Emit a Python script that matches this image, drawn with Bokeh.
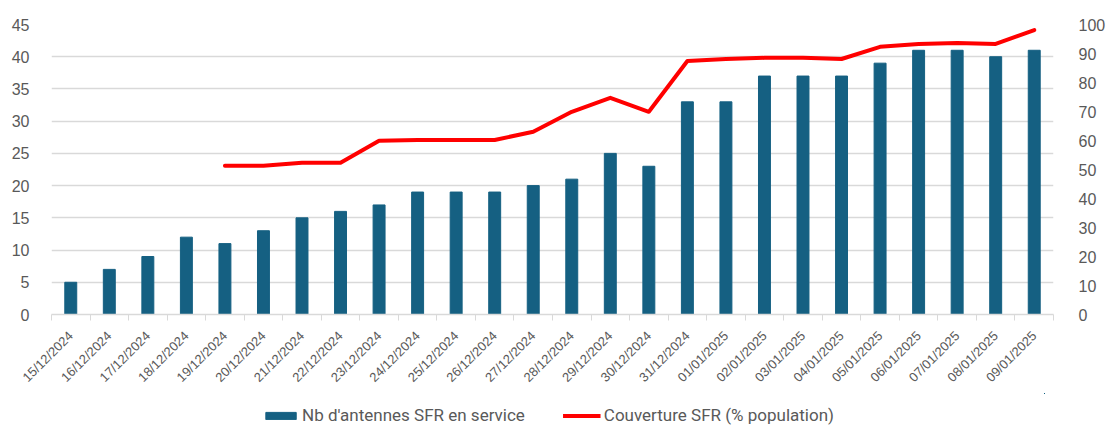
import math
import numpy as np
from bokeh.plotting import figure
from bokeh.layouts import column
from bokeh.models import Range1d, LinearAxis, FixedTicker, Legend, LegendItem, ColumnDataSource
from bokeh.embed import file_html
from bokeh.resources import INLINE

dates = ["15/12/2024", "16/12/2024", "17/12/2024", "18/12/2024", "19/12/2024",
         "20/12/2024", "21/12/2024", "22/12/2024", "23/12/2024", "24/12/2024",
         "25/12/2024", "26/12/2024", "27/12/2024", "28/12/2024", "29/12/2024",
         "30/12/2024", "31/12/2024", "01/01/2025", "02/01/2025", "03/01/2025",
         "04/01/2025", "05/01/2025", "06/01/2025", "07/01/2025", "08/01/2025",
         "09/01/2025"]
antennes = [5, 7, 9, 12, 11, 13, 15, 16, 17, 19, 19, 19, 20, 21, 25, 23,
            33, 33, 37, 37, 37, 39, 41, 41, 40, 41]
nan = float("nan")
couverture = [nan, nan, nan, nan, 51.3, 51.3, 52.3, 52.3, 59.9, 60.2, 60.2, 60.2,
              63.0, 69.9, 74.7, 69.9, 87.4, 88.1, 88.5, 88.5, 88.1, 92.3, 93.3,
              93.6, 93.3, 98.1]
left_ticks = [0, 5, 10, 15, 20, 25, 30, 35, 40, 45]
right_ticks = [0, 10, 20, 30, 40, 50, 60, 70, 80, 90, 100]
series_names = ["Nb d'antennes SFR en service", "Couverture SFR (% population)"]

n = len(dates)
xs = [i + 0.5 for i in range(n)]
src = ColumnDataSource(dict(x=xs, ant=antennes, cov=np.array(couverture, dtype=float)))

GRAY = "#595959"
GRID = "#d9d9d9"
FONT = "Liberation Sans"
BAR_COLOR = "#156082"
LINE_COLOR = "#ff0000"

p = figure(frame_width=1002, frame_height=290, output_backend="svg", toolbar_location=None,
           x_range=Range1d(0, n), y_range=Range1d(0, 45),
           min_border_left=51, min_border_right=46, min_border_top=24,
           min_border_bottom=0)
p.outline_line_color = None
p.extra_y_ranges = {"pct": Range1d(0, 100)}

p.vbar(x="x", top="ant", width=0.31, source=src, color=BAR_COLOR)
p.line(x="x", y="cov", source=src, y_range_name="pct", line_color=LINE_COLOR,
       line_width=4, line_cap="round", line_join="round")

xa = p.xaxis[0]
xa.ticker = FixedTicker(ticks=xs, minor_ticks=list(range(n + 1)))
xa.major_label_overrides = {x: d for x, d in zip(xs, dates)}
xa.major_tick_line_color = None
xa.minor_tick_line_color = GRID
xa.minor_tick_out = 6
xa.minor_tick_in = 0
xa.axis_line_color = GRID
xa.axis_line_width = 1.5
xa.major_label_orientation = math.pi / 4
xa.major_label_text_font = FONT
xa.major_label_text_font_size = "13px"
xa.major_label_text_color = GRAY
xa.major_label_standoff = 13

ya = p.yaxis[0]
ya.ticker = FixedTicker(ticks=left_ticks)
ya.axis_line_color = None
ya.major_tick_line_color = None
ya.minor_tick_line_color = None
ya.major_label_text_font = FONT
ya.major_label_text_font_size = "16px"
ya.major_label_text_color = GRAY
ya.major_label_standoff = 16

ra = LinearAxis(y_range_name="pct", ticker=FixedTicker(ticks=right_ticks))
ra.axis_line_color = None
ra.major_tick_line_color = None
ra.minor_tick_line_color = None
ra.major_label_text_font = FONT
ra.major_label_text_font_size = "16px"
ra.major_label_text_color = GRAY
ra.major_label_standoff = 19
p.add_layout(ra, "right")

p.xgrid.grid_line_color = None
p.ygrid.ticker = FixedTicker(ticks=left_ticks)
p.ygrid.grid_line_color = GRID
p.ygrid.grid_line_width = 1.5

# legend strip below the chart (same series, ranges set far out of view; only the legend shows)
lg = figure(width=1099, height=44, output_backend="svg", toolbar_location=None,
            x_range=Range1d(-1000, -999), y_range=Range1d(-1000, -999),
            min_border=0)
lg.axis.visible = False
lg.grid.visible = False
lg.outline_line_color = None
r_bar = lg.vbar(x="x", top="ant", width=0.31, source=src, color=BAR_COLOR)
r_line = lg.line(x="x", y="cov", source=src, line_color=LINE_COLOR, line_width=4)
legend = Legend(items=[LegendItem(label=series_names[0], renderers=[r_bar]),
                       LegendItem(label=series_names[1], renderers=[r_line])],
                orientation="horizontal", location="center",
                glyph_width=38, glyph_height=9, spacing=38, padding=2, margin=0,
                label_text_font="Roboto", label_text_font_size="17px",
                label_text_color=GRAY, label_standoff=3, label_height=18,
                border_line_color=None, background_fill_alpha=0)
lg.add_layout(legend, "center")

layout = column(p, lg, spacing=0)
open("out.html", "w").write(file_html(layout, INLINE))
